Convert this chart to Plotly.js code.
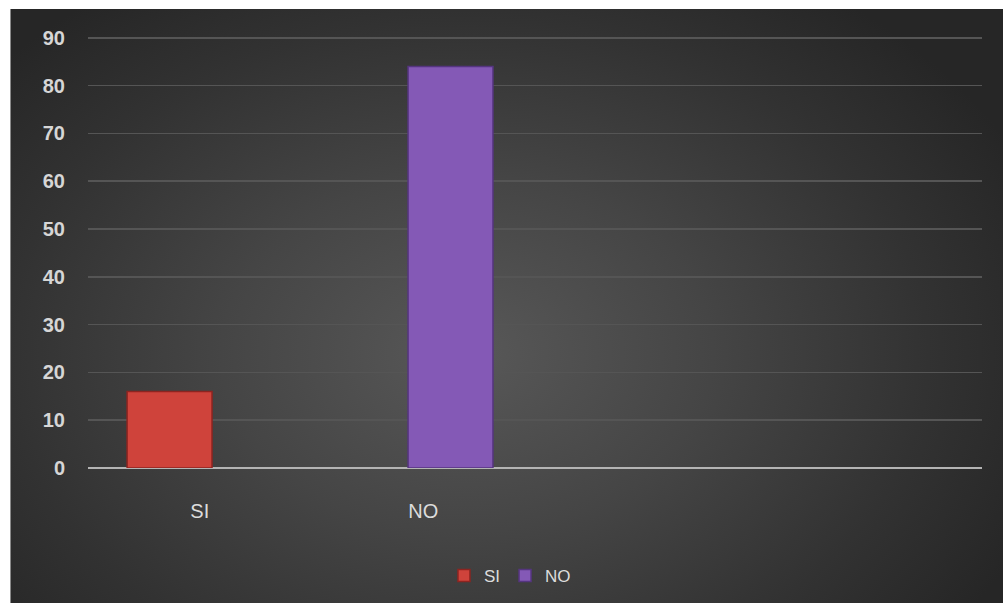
<!DOCTYPE html>
<html>
<head>
<meta charset="utf-8">
<script src="https://cdn.plot.ly/plotly-3.0.1.min.js"></script>
<style>
  html, body { margin: 0; padding: 0; background: #ffffff; }
  #wrap { position: relative; width: 1003px; height: 603px; overflow: hidden; background: #ffffff; }
  #bg { position: absolute; left: 10px; top: 9px; right: 0; bottom: 0;
        border-left: 1px solid #8a8a8a;
        background: radial-gradient(ellipse 62% 75% at 46% 58%, #585858 0%, #454545 40%, #323232 75%, #262626 100%); }
  #chart { position: absolute; left: 0; top: 0; width: 1003px; height: 603px; }
</style>
</head>
<body>
<div id="wrap">
  <div id="bg"></div>
  <div id="chart"></div>
</div>
<script>
// Data
const categories = ["SI", "NO"];
const values = [16, 84];
const yTicks = [0, 10, 20, 30, 40, 50, 60, 70, 80, 90];

// Styles
const fills = ["#cf433b", "#8459b6"];
const edges = ["#8e2420", "#553580"];
const offsets = [-0.325, -0.068];

const traces = categories.map((c, i) => ({
  type: "bar",
  name: c,
  x: [i],
  y: [values[i]],
  width: 0.38,
  offset: offsets[i],
  marker: { color: fills[i], line: { color: edges[i], width: 1.5 } },
  hoverinfo: "name+y"
}));

const layout = {
  width: 1003,
  height: 603,
  paper_bgcolor: "rgba(0,0,0,0)",
  plot_bgcolor: "rgba(0,0,0,0)",
  margin: { l: 88, r: 21, t: 33, b: 135 },
  barmode: "overlay",
  showlegend: true,
  legend: {
    orientation: "h",
    x: 0.472, xanchor: "center",
    y: 0.045, yref: "container", yanchor: "middle",
    font: { family: "Liberation Sans, Arial, sans-serif", size: 17, color: "#dcdcdc" },
    bgcolor: "rgba(0,0,0,0)",
    itemwidth: 30
  },
  xaxis: {
    type: "linear",
    range: [-0.5, 3.5],
    tickvals: categories.map((c, i) => i),
    ticktext: categories,
    showgrid: false,
    zeroline: false,
    showline: false,
    ticks: "",
    ticklabelstandoff: 29,
    tickfont: { family: "Liberation Sans, Arial, sans-serif", size: 20, color: "#dcdcdc" },
    fixedrange: true
  },
  yaxis: {
    range: [0, 91],
    tickvals: yTicks,
    showgrid: true,
    gridcolor: "#555555",
    gridwidth: 1.5,
    zeroline: true,
    zerolinecolor: "#b4b4b4",
    zerolinewidth: 2.5,
    showline: false,
    ticks: "",
    ticklabelstandoff: 22,
    tickfont: { family: "Liberation Sans, Arial, sans-serif", size: 20, color: "#d6d6d6", weight: "bold" },
    fixedrange: true
  }
};

Plotly.newPlot("chart", traces, layout, { displayModeBar: false, staticPlot: true });
</script>
</body>
</html>
